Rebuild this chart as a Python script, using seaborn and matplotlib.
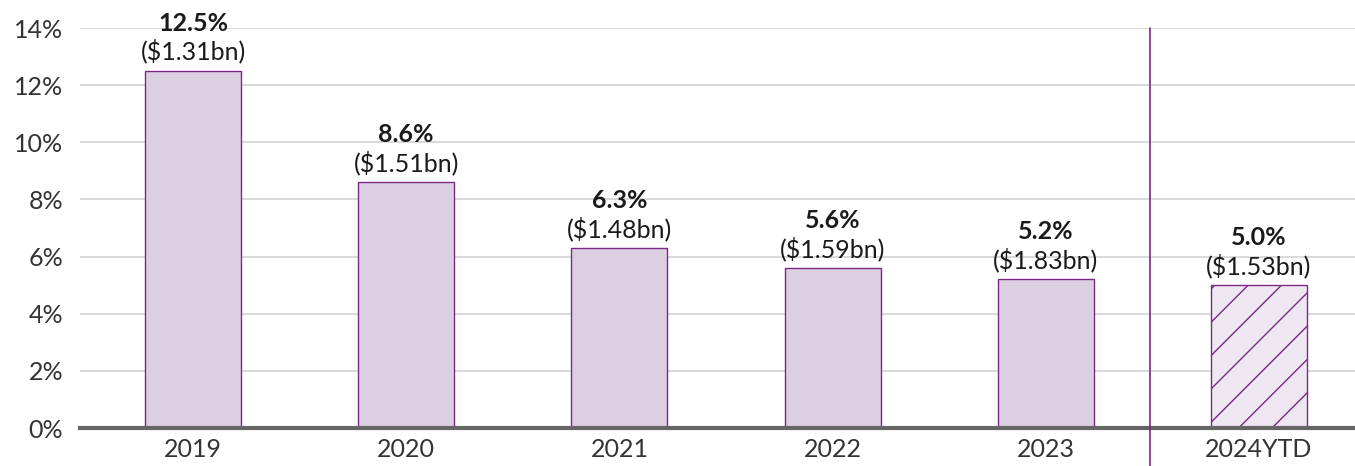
import matplotlib
matplotlib.use("Agg")
import matplotlib.pyplot as plt
import seaborn as sns
import pandas as pd

years = ["2019", "2020", "2021", "2022", "2023", "2024YTD"]
rates = [12.5, 8.6, 6.3, 5.6, 5.2, 5.0]
amounts_bn = [1.31, 1.51, 1.48, 1.59, 1.83, 1.53]
yticks = [0, 2, 4, 6, 8, 10, 12, 14]

sns.set_theme(style="white")
plt.rcParams['font.family'] = ['Lato', 'DejaVu Sans']
plt.rcParams['hatch.linewidth'] = 1.0
plt.rcParams['hatch.color'] = '#7B2A83'

df = pd.DataFrame({"year": years, "rate": rates})
fill = "#DCCFE2"
edge = "#7B2A83"

fig = plt.figure(figsize=(13.55, 4.66), dpi=100)
ax = fig.add_axes([80 / 1355, 1 - 428 / 466, 1 - 80 / 1355, 400 / 466])

sns.barplot(data=df, x="year", y="rate", color=fill, width=0.45,
            edgecolor=edge, linewidth=1.0, saturation=1, ax=ax, zorder=3)

last = ax.patches[-1]
last.set_facecolor("#EEE6F1")
last.set_hatch("/")

ax.set_ylim(0, 14)
ax.set_xlim(-0.53, 5.45)
ax.set_yticks(yticks)
ax.set_yticklabels([f"{t}%" for t in yticks], fontsize=18, color="#333333")
ax.tick_params(axis="x", labelsize=18, colors="#333333", length=0, pad=7)
ax.tick_params(axis="y", length=0, pad=12)
ax.set_xlabel("")
ax.set_ylabel("")
ax.grid(axis="y", color="#D3D3D3", linewidth=1.2, zorder=0)
for s in ["top", "right", "left"]:
    ax.spines[s].set_visible(False)
ax.spines["bottom"].set_color("#666666")
ax.spines["bottom"].set_linewidth(3)
ax.spines["bottom"].set_zorder(4)

ax.axvline(4.49, ymin=-0.1, ymax=1.0, color=edge, linewidth=1.2, clip_on=False, zorder=5)

for i, (r, a) in enumerate(zip(rates, amounts_bn)):
    ax.annotate(f"(${a:.2f}bn)", (i, r), xytext=(0, 8), textcoords="offset points",
                ha="center", va="baseline", fontsize=18, color="#1a1a1a")
    ax.annotate(f"{r:.1f}%", (i, r), xytext=(0, 29), textcoords="offset points",
                ha="center", va="baseline", fontsize=18, fontweight="bold", color="#1a1a1a")

fig.savefig("out.png", dpi=100)
